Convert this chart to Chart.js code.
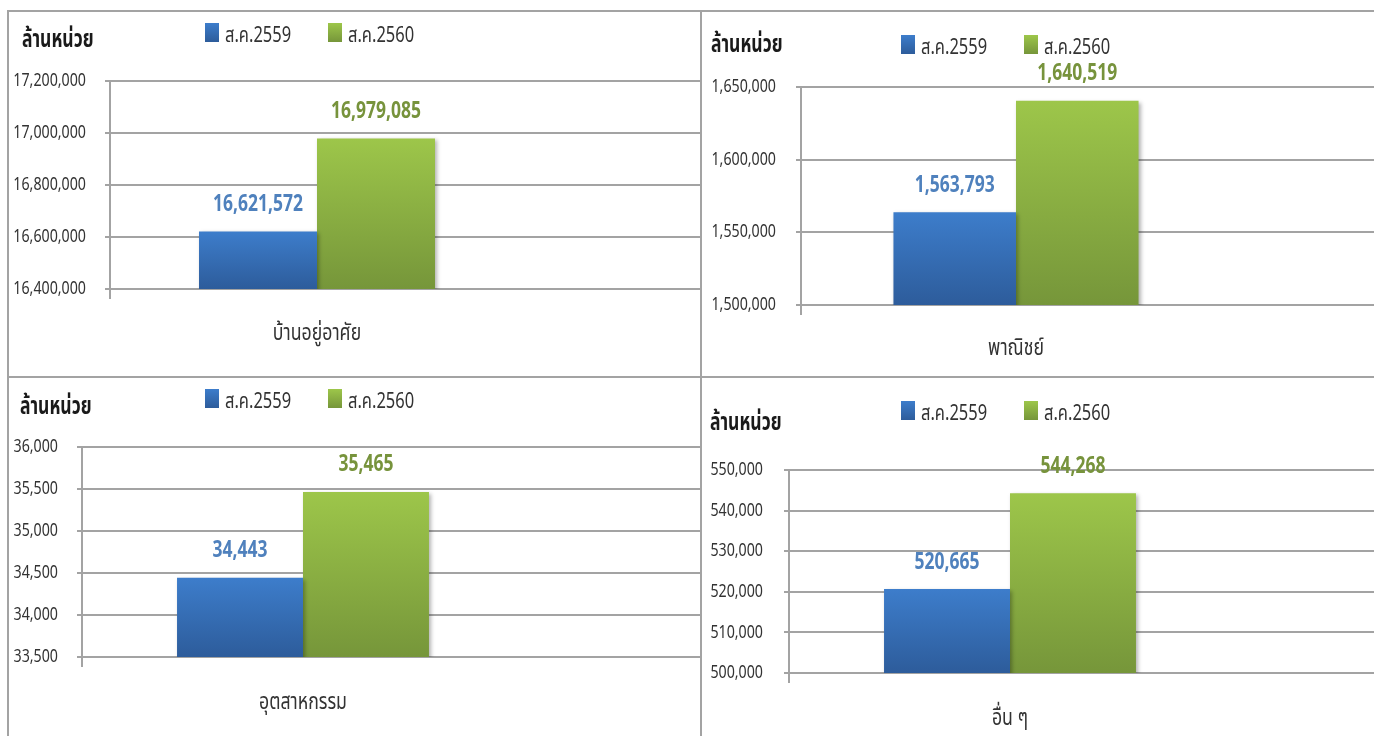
<!DOCTYPE html>
<html>
<head>
<meta charset="utf-8">
<script src="https://cdn.jsdelivr.net/npm/chart.js@4.4.1/dist/chart.umd.min.js"></script>
<style>
  body { margin: 0; width: 1374px; height: 736px; background: #fff; position: relative; overflow: hidden;
         font-family: 'Noto Sans', 'Noto Sans Thai', sans-serif; }
  .line { position: absolute; background: #a3a3a3; z-index: 2; }
  canvas { position: absolute; z-index: 1; }
  .unit { position: absolute; font-weight: bold; font-size: 24px; color: #1a1a1a; line-height: 26px; white-space: nowrap;
          z-index: 3; transform: scaleX(0.73); transform-origin: 0 50%; }
  .lg { position: absolute; font-size: 22px; color: #333; line-height: 24px; white-space: nowrap;
        z-index: 3; transform: scaleX(0.75); transform-origin: 0 50%; }
  .sw { position: absolute; width: 14px; height: 19px; z-index: 3; }
</style>
</head>
<body>
<script>
// data
const seriesNames = ['ส.ค.2559', 'ส.ค.2560'];
const categories = ['บ้านอยู่อาศัย', 'พาณิชย์', 'อุตสาหกรรม', 'อื่น ๆ'];
const aug2559 = [16621572, 1563793, 34443, 520665];
const aug2560 = [16979085, 1640519, 35465, 544268];
const axisMin = [16400000, 1500000, 33500, 500000];
const axisMax = [17200000, 1650000, 36000, 550000];
const axisStep = [200000, 50000, 500, 10000];
const unitLabel = 'ล้านหน่วย';

const FAM = "'Noto Sans', 'Noto Sans Thai', sans-serif";
const gridColor = '#a3a3a3';
const textColor = '#333';
const blueTop = '#3d7dcb', blueBottom = '#2d5c9b';
const greenTop = '#9dc64a', greenBottom = '#76963a';
const labelColors = ['#4f81bd', '#77933c'];

// panel geometry (page px); canvases start at the panel's outer edge
const panels = [
  { left: 0,   top: 12,  w: 700, h: 364, area: { left: 110, right: 524, top: 69, bottom: 277 },
    tickRight: 86, catY: 333, unit: [22, 25], legend: [205, 23] },
  { left: 702, top: 12,  w: 672, h: 364, area: { left: 99,  right: 529, top: 75, bottom: 293 },
    tickRight: 776, catY: 348, unit: [711, 30], legend: [901, 35] },
  { left: 0,   top: 378, w: 700, h: 358, area: { left: 82,  right: 524, top: 69, bottom: 279 },
    tickRight: 58, catY: 702, unit: [20, 392], legend: [205, 389] },
  { left: 702, top: 378, w: 672, h: 358, area: { left: 87,  right: 529, top: 92, bottom: 295 },
    tickRight: 763, catY: 718, unit: [710, 408], legend: [901, 401] }
];

function addDiv(cls, x, y, w, h, txt, bg) {
  const d = document.createElement('div');
  d.className = cls;
  d.style.left = x + 'px'; d.style.top = y + 'px';
  if (w != null) d.style.width = w + 'px';
  if (h != null) d.style.height = h + 'px';
  if (txt) d.textContent = txt;
  if (bg) d.style.background = bg;
  document.body.appendChild(d);
  return d;
}

// frame lines
addDiv('line', 7, 10, 1367, 2);
addDiv('line', 7, 10, 2, 726);
addDiv('line', 700, 10, 2, 726);
addDiv('line', 7, 376, 1367, 2);

Chart.defaults.font.family = FAM;
Chart.defaults.color = textColor;

function barFill(top, bottom) {
  return function (c) {
    const chart = c.chart;
    const y = chart.scales.y;
    if (!chart.chartArea || !y) return bottom;
    const y0 = y.getPixelForValue(c.raw);
    const y1 = y.getPixelForValue(y.min);
    const g = chart.ctx.createLinearGradient(0, y0, 0, y1);
    g.addColorStop(0, top);
    g.addColorStop(1, bottom);
    return g;
  };
}

// narrow text, like the original's condensed face
function squeeze(ctx, text, x, y, sx, align, font, color) {
  ctx.save();
  ctx.font = font;
  ctx.fillStyle = color;
  ctx.textAlign = align;
  ctx.textBaseline = 'middle';
  ctx.translate(x, y);
  ctx.scale(sx, 1);
  ctx.fillText(text, 0, 0);
  ctx.restore();
}

const extras = {
  id: 'extras',
  beforeDatasetsDraw(chart) {
    const { ctx, chartArea, scales: { y } } = chart;
    ctx.save();
    ctx.strokeStyle = gridColor;
    ctx.lineWidth = 2;
    y.ticks.forEach(t => {
      const py = Math.round(y.getPixelForValue(t.value));
      ctx.beginPath();
      ctx.moveTo(chartArea.right, py);
      ctx.lineTo(chart.width, py);
      ctx.stroke();
    });
    ctx.restore();
    ctx.save();
    ctx.shadowColor = 'rgba(0,0,0,0.3)';
    ctx.shadowBlur = 4;
    ctx.shadowOffsetX = 2;
    ctx.shadowOffsetY = 2;
  },
  afterDatasetsDraw(chart, args, opts) {
    const ctx = chart.ctx;
    ctx.restore();
    const { scales: { x, y } } = chart;
    const p = opts.panel;
    // y tick labels
    y.ticks.forEach(t => {
      squeeze(ctx, t.label, p.tickRight - p.left, y.getPixelForValue(t.value), 0.79,
        'right', '18px ' + FAM, textColor);
    });
    // category label
    x.ticks.forEach((t, i) => {
      squeeze(ctx, chart.data.labels[i], x.getPixelForTick(i), p.catY - p.top, 0.77,
        'center', '23px ' + FAM, textColor);
    });
    // value labels
    chart.data.datasets.forEach((ds, di) => {
      chart.getDatasetMeta(di).data.forEach((bar, i) => {
        squeeze(ctx, ds.data[i].toLocaleString('en-US'), bar.x, bar.y - 27, 0.76,
          'center', 'bold 23px ' + FAM, labelColors[di]);
      });
    });
  }
};

panels.forEach((p, i) => {
  // unit label and legend
  addDiv('unit', p.unit[0], p.unit[1], null, null, unitLabel);
  const grads = [[blueTop, blueBottom], [greenTop, greenBottom]];
  seriesNames.forEach((name, k) => {
    const x = p.legend[0] + k * 123;
    addDiv('sw', x, p.legend[1], null, null, '', 'linear-gradient(' + grads[k][0] + ',' + grads[k][1] + ')');
    addDiv('lg', x + 20, p.legend[1] - 2, null, null, name);
  });

  const cv = document.createElement('canvas');
  cv.width = p.w; cv.height = p.h;
  cv.style.left = p.left + 'px'; cv.style.top = p.top + 'px';
  cv.style.width = p.w + 'px'; cv.style.height = p.h + 'px';
  document.body.appendChild(cv);

  new Chart(cv, {
    type: 'bar',
    data: {
      labels: [categories[i]],
      datasets: [
        { label: seriesNames[0], data: [aug2559[i]], backgroundColor: barFill(blueTop, blueBottom) },
        { label: seriesNames[1], data: [aug2560[i]], backgroundColor: barFill(greenTop, greenBottom) }
      ]
    },
    options: {
      responsive: false,
      maintainAspectRatio: false,
      devicePixelRatio: 1,
      animation: false,
      locale: 'en-US',
      categoryPercentage: 0.57,
      barPercentage: 1,
      layout: { padding: { left: 0, top: p.area.top, right: p.w - p.area.right, bottom: 0 } },
      plugins: { legend: { display: false }, tooltip: { enabled: false }, extras: { panel: p } },
      scales: {
        x: {
          afterFit: s => { s.height = p.h - p.area.bottom; },
          border: { display: false },
          grid: {
            drawOnChartArea: false,
            tickLength: 10,
            lineWidth: 2,
            color: c => c.index === 0 ? gridColor : 'rgba(0,0,0,0)'
          },
          ticks: { display: false }
        },
        y: {
          min: axisMin[i],
          max: axisMax[i],
          afterFit: s => { s.width = p.area.left; },
          border: { display: true, color: gridColor, width: 2 },
          grid: { color: gridColor, lineWidth: 2, tickLength: 5 },
          ticks: {
            display: false,
            stepSize: axisStep[i],
            callback: v => v.toLocaleString('en-US')
          }
        }
      }
    },
    plugins: [extras]
  });
});
</script>
</body>
</html>
